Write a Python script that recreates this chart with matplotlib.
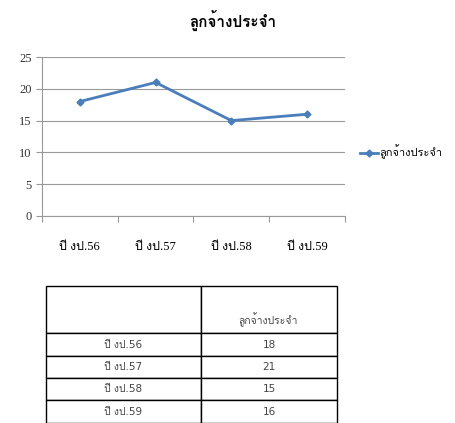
import matplotlib
matplotlib.use("Agg")
import matplotlib.pyplot as plt
from matplotlib import font_manager
from matplotlib.ft2font import FT2Font

# data
years = ["ปี งป.56", "ปี งป.57", "ปี งป.58", "ปี งป.59"]
staff = [18, 21, 15, 16]
series_name = "ลูกจ้างประจำ"

# pick some installed font that has Thai glyphs
thai = None
for f in font_manager.fontManager.ttflist:
    try:
        ft = FT2Font(f.fname)
        if ord("ก") in ft.get_charmap():
            thai = f.name
            break
    except Exception:
        pass
fams = ["Liberation Serif"] + ([thai] if thai else []) + ["DejaVu Sans"]
plt.rcParams["font.family"] = fams
sans = ["DejaVu Sans"] + ([thai] if thai else [])

W, H = 456, 423
fig = plt.figure(figsize=(W / 100, H / 100), dpi=100)

ax = fig.add_axes([42 / W, 1 - 216 / H, (345 - 42) / W, (216 - 57) / H])
x = list(range(len(years)))
ax.plot(x, staff, color="#4a7ebb", lw=2, marker="D", ms=3.5, label=series_name)
ax.set_xlim(-0.5, 3.5)
ax.set_ylim(0, 25)
ax.set_yticks(range(0, 26, 5))
ax.set_xticks([i - 0.5 for i in range(5)], minor=False)
ax.set_xticklabels([])
ax.set_xticks(x, minor=True)
ax.set_xticklabels(years, minor=True, fontsize=9)
ax.tick_params(axis="x", which="minor", length=0, pad=18)
ax.tick_params(axis="x", which="major", length=4, color="#999999", direction="out")
ax.tick_params(axis="y", length=4, color="#999999", labelsize=9, labelcolor="#333333")
ax.grid(axis="y", color="#999999", lw=0.8)
for s in ["top", "right"]:
    ax.spines[s].set_visible(False)
for s in ["left", "bottom"]:
    ax.spines[s].set_color("#999999")
ax.set_axisbelow(True)

fig.text(233 / W, 1 - 20 / H, series_name, ha="center", va="center",
         fontsize=11, fontweight="bold")
ax.legend(loc="center left", bbox_to_anchor=(360 / W, 1 - 152 / H),
          bbox_transform=fig.transFigure, frameon=False, fontsize=8,
          handlelength=1.6, borderpad=0, borderaxespad=0, handletextpad=0.1)

# table under the chart
tab_ax = fig.add_axes([46 / W, 0, (337 - 46) / W, (423 - 286) / H])
tab_ax.axis("off")
cells = [["", ""]] + [[y, str(v)] for y, v in zip(years, staff)]
tbl = tab_ax.table(cellText=cells, cellLoc="center", bbox=[0, 0, 1, 1],
                   colWidths=[155, 136])
tbl.auto_set_font_size(False)
row_h = [47, 23, 22, 22, 23]
for (r, c), cell in tbl.get_celld().items():
    cell.set_height(row_h[r] / 137)
    cell.set_linewidth(1)
    cell.get_text().set_fontsize(7.5)
    cell.get_text().set_color("#444444")
    cell.get_text().set_family(sans)
fig.text(268 / W, 1 - 320 / H, series_name, ha="center", va="center",
         fontsize=7.5, color="#444444", family=sans)

fig.savefig("out.png", dpi=100)
